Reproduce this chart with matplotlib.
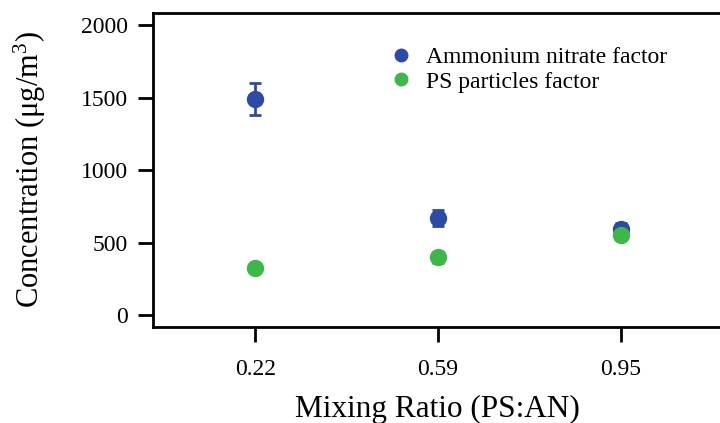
import matplotlib.pyplot as plt
from matplotlib.lines import Line2D

plt.rcParams['font.family'] = ['Liberation Serif', 'DejaVu Serif']
plt.rcParams['mathtext.fontset'] = 'custom'
plt.rcParams['mathtext.rm'] = 'Liberation Serif'
plt.rcParams['mathtext.it'] = 'Liberation Serif'

ratios = ['0.22', '0.59', '0.95']
an_factor = [1490, 670, 595]
an_err = [110, 55, 45]
ps_factor = [325, 400, 555]
ps_err = [20, 40, 25]

blue = '#2d4ba5'
green = '#3fb64a'

fig = plt.figure(figsize=(7.2, 4.23), dpi=100)
ax = fig.add_axes([153 / 720, (423 - 327) / 423, 568 / 720, 314 / 423])

xpos = range(len(ratios))
ax.errorbar(xpos, an_factor, yerr=an_err, fmt='o', color=blue, ms=11.5,
            capsize=4, elinewidth=2, capthick=2)
ax.errorbar(xpos, ps_factor, yerr=ps_err, fmt='o', color=green, ms=11.5,
            capsize=4, elinewidth=2, capthick=2)

ax.set_xlim(-0.56, 2.55)
ax.set_ylim(-80, 2085)
ax.set_xticks(list(xpos))
ax.set_xticklabels(ratios)
ax.set_yticks([0, 500, 1000, 1500, 2000])
ax.tick_params(axis='both', direction='out', length=11, width=2, labelsize=17)
ax.tick_params(axis='y', pad=7)
ax.tick_params(axis='x', pad=12)
for s in ax.spines.values():
    s.set_linewidth(2)
ax.spines['right'].set_visible(False)

ax.set_xlabel('Mixing Ratio (PS:AN)', fontsize=22.5, labelpad=11)
ax.set_ylabel(r'Concentration ($\mu$g/m$^3$)', fontsize=22)
ax.yaxis.set_label_coords(-0.185, 0.5)

handles = [Line2D([], [], ls='none', marker='o', color=blue, ms=9),
           Line2D([], [], ls='none', marker='o', color=green, ms=9)]
ax.legend(handles, ['Ammonium nitrate factor', 'PS particles factor'],
          loc='upper left', bbox_to_anchor=(0.375, 0.96), frameon=False,
          fontsize=17, handletextpad=0.45, labelspacing=0.12, handlelength=1.2)

fig.savefig('out.png', dpi=100)
